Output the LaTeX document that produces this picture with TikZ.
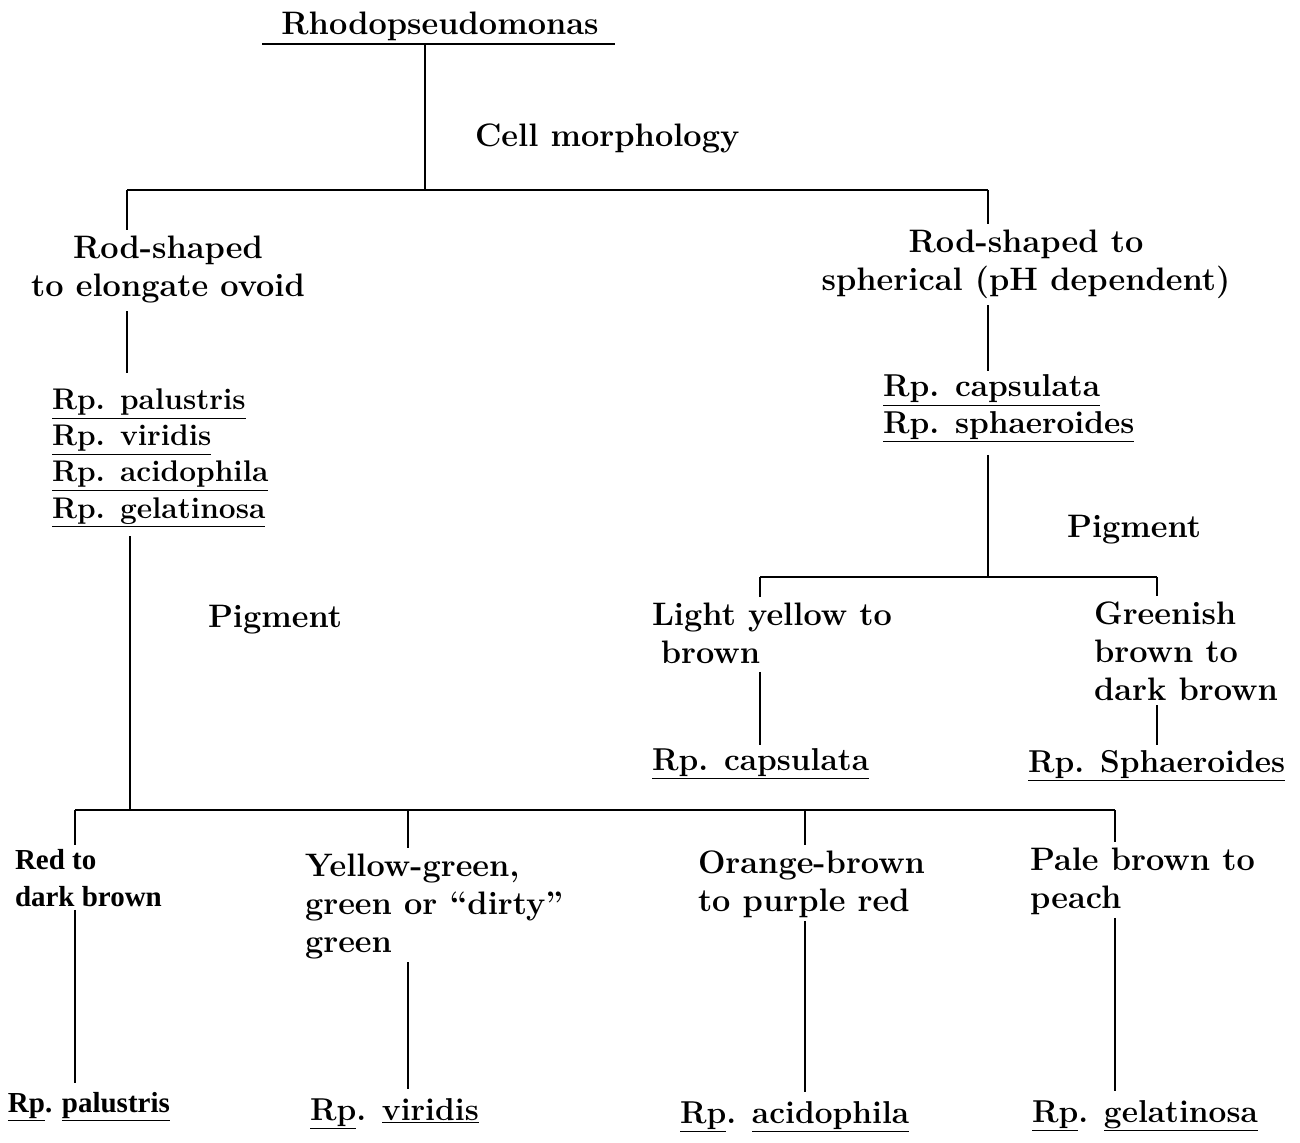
\documentclass[tikz,border=0pt]{standalone}
\usepackage{fontspec}
\newfontfamily\condfont{Liberation Serif}
\usetikzlibrary{positioning, calc}

\begin{document}
\begin{tikzpicture}[
    x=0.02cm, y=-0.02cm,
    every node/.style={inner sep=0pt, outer sep=0pt},
    txt/.style={font=\fontsize{18.5}{21.6}\selectfont\bfseries, align=left},
    head/.style={txt, align=center},
    species/.style={font=\fontsize{18}{20.8}\selectfont\bfseries, align=left},
    narrow/.style={font=\condfont\fontsize{16.5}{20.5}\selectfont\bfseries, align=left},
    link/.style={line width=1.1pt}
]
\useasboundingbox (0,0) rectangle (1300,1142);

% Root and first split (cell morphology)
\node[txt, anchor=base] (root) at (440,35) {Rhodopseudomonas};
\node[txt, anchor=base west] (cellmorph) at (475,147) {Cell morphology};
\coordinate (rootl) at (262,44);
\coordinate (rootr) at (615,44);
\coordinate (rootstem) at (425,44);
\coordinate (split1) at (425,190);
\coordinate (split1l) at (127,190);
\coordinate (split1r) at (988,190);

\draw[link] (rootl) -- (rootr);
\draw[link] (rootstem) -- (split1);
\draw[link] (split1l) -- (split1r);

% Left branch (base anchor = last line)
\node[head, anchor=base] (rodL) at (168,296) {Rod-shaped\\to elongate ovoid};
\node[species, font=\fontsize{17}{20.5}\selectfont\bfseries, anchor=base west] (leftlist) at (52,518)
    {\underline{Rp. palustris}\\\underline{Rp. viridis}\\\underline{Rp. acidophila}\\\underline{Rp. gelatinosa}};
\node[txt, anchor=base west] (pigL) at (208,627) {Pigment};

\draw[link, shorten >=3pt] (split1l) -- (split1l |- rodL.north);
\draw[link, shorten <=5pt, shorten >=9pt] (rodL.south -| split1l) -- (leftlist.north -| split1l);

% Right branch
\node[head, anchor=base] (rodR) at (1026,290) {Rod-shaped to\\spherical (pH dependent)};
\node[species, anchor=base west] (rightlist) at (883,433)
    {\underline{Rp. capsulata}\\\underline{Rp. sphaeroides}};
\node[txt, anchor=base west] (pigR) at (1067,537) {Pigment};

\draw[link, shorten >=3pt] (split1r) -- (split1r |- rodR.north);
\draw[link, shorten <=4pt, shorten >=2pt] (rodR.south -| split1r) -- (rightlist.north -| split1r);

\coordinate (split2) at (988,577);
\coordinate (split2l) at (760,577);
\coordinate (split2r) at (1157,577);
\draw[link, shorten <=7pt] (rightlist.south -| split2) -- (split2);
\draw[link] (split2l) -- (split2r);

\node[txt, anchor=base west] (lightyellow) at (652,663) {Light yellow to\\\hspace*{5pt}brown};
\node[txt, anchor=base west] (greenish) at (1094,700) {Greenish\\brown to\\dark brown};
\node[species, anchor=base west] (capsulata) at (652,770) {\underline{Rp. capsulata}};
\node[species, anchor=base west] (sphaeroides) at (1028,772) {\underline{Rp. Sphaeroides}};

\draw[link, shorten >=3pt] (split2l) -- (split2l |- lightyellow.north);
\draw[link, shorten >=3pt] (split2r) -- (split2r |- greenish.north);
\draw[link, shorten <=5pt, shorten >=2pt] (lightyellow.south -| split2l) -- (capsulata.north -| split2l);
\draw[link, shorten <=3pt, shorten >=3pt] (greenish.south -| split2r) -- (sphaeroides.north -| split2r);

% Pigment split of the left list
\coordinate (split3) at (130,810);
\coordinate (tick1) at (75,810);
\coordinate (tick2) at (408,810);
\coordinate (tick3) at (805,810);
\coordinate (tick4) at (1115,810);
\draw[link, shorten <=5pt] (leftlist.south -| split3) -- (split3);
\draw[link] (tick1) -- (tick4);

\node[narrow, anchor=base west] (redbrown) at (15,906) {Red to\\dark brown};
\node[txt, anchor=base west] (yellowgreen) at (305,952) {Yellow-green,\\green or ``dirty''\\green};
\node[txt, anchor=base west] (orangebrown) at (698,911) {Orange-brown\\to purple red};
\node[txt, anchor=base west] (palebrown) at (1030,908) {Pale brown to\\peach};

\node[narrow, anchor=base west] (palustris) at (8,1112) {\underline{Rp}. \underline{palustris}};
\node[species, anchor=base west] (viridis) at (310,1120) {\underline{Rp}. \underline{viridis}};
\node[species, anchor=base west] (acidophila) at (680,1123) {\underline{Rp}. \underline{acidophila}};
\node[species, anchor=base west] (gelatinosa) at (1032,1122) {\underline{Rp}. \underline{gelatinosa}};

\foreach \t/\c/\s in {tick1/redbrown/palustris, tick2/yellowgreen/viridis,
                      tick3/orangebrown/acidophila, tick4/palebrown/gelatinosa} {
    \draw[link, shorten >=3pt] (\t) -- (\t |- \c.north);
    \draw[link, shorten <=2pt, shorten >=5pt] (\c.south -| \t) -- (\s.north -| \t);
}

\end{tikzpicture}
\end{document}
